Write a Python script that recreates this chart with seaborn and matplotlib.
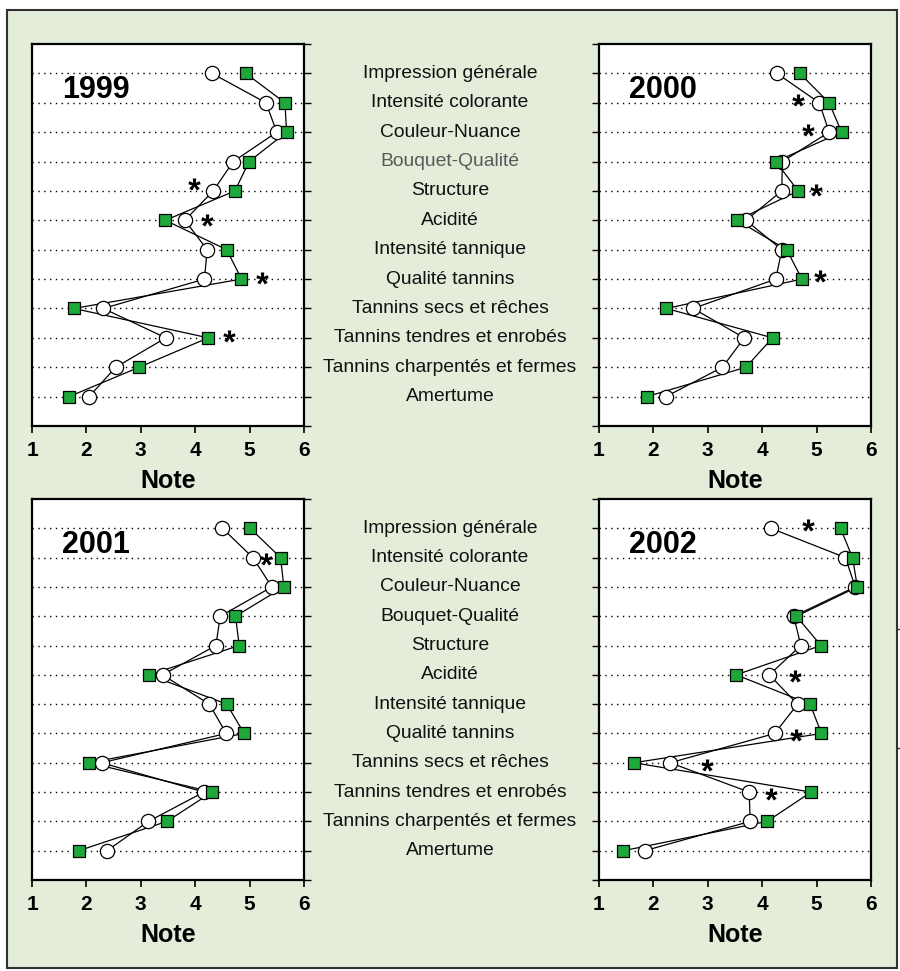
import matplotlib
matplotlib.use("Agg")
import matplotlib.pyplot as plt
import matplotlib.transforms as mtransforms
from matplotlib.lines import Line2D
from matplotlib.patches import Rectangle
import pandas as pd
import seaborn as sns


ATTRIBUTES = [
    "Impression générale",
    "Intensité colorante",
    "Couleur-Nuance",
    "Bouquet-Qualité",
    "Structure",
    "Acidité",
    "Intensité tannique",
    "Qualité tannins",
    "Tannins secs et rêches",
    "Tannins tendres et enrobés",
    "Tannins charpentés et fermes",
    "Amertume",
]
YEARS = ["1999", "2000", "2001", "2002"]

# open circles / green squares, one value per attribute (top to bottom)
OPEN_1999 = [4.31, 5.30, 5.50, 4.70, 4.33, 3.81, 4.22, 4.17, 2.31, 3.46, 2.54, 2.05]
GREEN_1999 = [4.93, 5.65, 5.68, 4.99, 4.73, 3.45, 4.58, 4.85, 1.77, 4.24, 2.97, 1.68]
OPEN_2000 = [4.27, 5.05, 5.23, 4.37, 4.36, 3.70, 4.36, 4.25, 2.73, 3.67, 3.27, 2.23]
GREEN_2000 = [4.69, 5.23, 5.46, 4.25, 4.66, 3.54, 4.45, 4.73, 2.24, 4.19, 3.70, 1.88]
OPEN_2001 = [4.50, 5.06, 5.41, 4.46, 4.38, 3.40, 4.26, 4.57, 2.28, 4.16, 3.14, 2.38]
GREEN_2001 = [5.01, 5.57, 5.63, 4.74, 4.81, 3.15, 4.58, 4.90, 2.05, 4.31, 3.48, 1.86]
OPEN_2002 = [4.16, 5.53, 5.71, 4.58, 4.71, 4.13, 4.65, 4.23, 2.31, 3.76, 3.78, 1.84]
GREEN_2002 = [5.44, 5.66, 5.75, 4.63, 5.08, 3.52, 4.88, 5.09, 1.64, 4.90, 4.09, 1.45]

# significance stars: note value and attribute row
STARS_1999_X = [3.98, 4.22, 5.22, 4.62]
STARS_1999_ROW = [3.78, 5.0, 6.95, 8.95]
STARS_2000_X = [4.65, 4.85, 4.99, 5.07]
STARS_2000_ROW = [0.89, 1.93, 3.97, 6.89]
STARS_2001_X = [5.30]
STARS_2001_ROW = [1.06]
STARS_2002_X = [4.84, 4.60, 4.63, 2.99, 4.16]
STARS_2002_ROW = [-0.11, 5.03, 7.05, 8.07, 9.06]

OPEN_VALUES = [OPEN_1999, OPEN_2000, OPEN_2001, OPEN_2002]
GREEN_VALUES = [GREEN_1999, GREEN_2000, GREEN_2001, GREEN_2002]
STAR_X = [STARS_1999_X, STARS_2000_X, STARS_2001_X, STARS_2002_X]
STAR_ROW = [STARS_1999_ROW, STARS_2000_ROW, STARS_2001_ROW, STARS_2002_ROW]

W, H = 900, 971
# panel boxes in pixels: left, top, right, bottom
PANEL_BOXES = [(32, 44, 304, 426), (599, 44, 871, 426), (32, 499, 304, 880), (599, 499, 871, 880)]
GREEN_BG = "#e3edda"
SQUARE_GREEN = "#1fa83a"


def make_axes(fig, box):
    left, top, right, bottom = box
    return fig.add_axes([left / W, 1 - bottom / H, (right - left) / W, (bottom - top) / H])


def draw_panel(ax, year, open_vals, green_vals, star_x, star_row, tick_side):
    rows = list(range(len(ATTRIBUTES)))
    open_df = pd.DataFrame({"note": open_vals, "row": rows})
    green_df = pd.DataFrame({"note": green_vals, "row": rows})
    star_df = pd.DataFrame({"note": star_x, "row": star_row})

    for df in (open_df, green_df):
        sns.lineplot(data=df, x="note", y="row", orient="y", sort=False,
                     estimator=None, color="black", linewidth=0.9, ax=ax, zorder=2)
    sns.scatterplot(data=open_df, x="note", y="row", marker="o", s=105,
                    color="white", edgecolor="black", linewidth=0.9, ax=ax, zorder=3)
    sns.scatterplot(data=green_df, x="note", y="row", marker="s", s=82,
                    color=SQUARE_GREEN, edgecolor="black", linewidth=0.9, ax=ax, zorder=4)
    sns.scatterplot(data=star_df, x="note", y="row", marker=r"$\mathbf{*}$", s=80,
                    color="black", linewidth=0, ax=ax, zorder=5)

    ax.set_xlim(1, 6)
    ax.set_ylim(12, -1)
    ax.set_xticks(range(1, 7))
    ax.set_xticklabels([str(v) for v in range(1, 7)], fontsize=15, fontweight="bold")
    ax.set_yticks(rows)
    ax.set_yticks([-1, 12], minor=True)
    ax.set_yticklabels([])
    ax.yaxis.set_ticks_position(tick_side)
    ax.tick_params(axis="x", direction="out", length=5, width=1.2, pad=6,
                   color="black", labelcolor="black")
    ax.tick_params(axis="y", which="both", direction="out", length=5, width=1.0,
                   color="black", labelleft=False, labelright=False)
    ax.grid(axis="y", which="major", linestyle=(0, (1, 3.2)), color="black", linewidth=1.0)
    ax.set_axisbelow(True)
    ax.set_xlabel("Note", fontsize=18, fontweight="bold", labelpad=6, color="black")
    ax.set_ylabel("")
    for spine in ax.spines.values():
        spine.set_visible(True)
        spine.set_color("black")
        spine.set_linewidth(1.6)
    ax.set_facecolor("white")
    ax.text(0.11, 0.88, year, transform=ax.transAxes, fontsize=22,
            fontweight="bold", ha="left", va="center", color="black")


def main():
    sns.set_theme(style="ticks")
    plt.rcParams["font.family"] = ["Liberation Sans", "DejaVu Sans"]
    plt.rcParams["text.color"] = "black"
    plt.rcParams["mathtext.fontset"] = "custom"
    plt.rcParams["mathtext.bf"] = "Liberation Sans:bold"

    fig = plt.figure(figsize=(W / 100, H / 100), dpi=100, facecolor="white")
    fig.patches.append(Rectangle((7 / W, 3 / H), 890 / W, 958 / H, transform=fig.transFigure,
                                 facecolor=GREEN_BG, edgecolor="#303030", linewidth=1.5,
                                 zorder=-5))
    # small bracket stub on the right edge
    for ypix in (629, 748):
        fig.add_artist(Line2D([897 / W, 1.0], [1 - ypix / H, 1 - ypix / H],
                              transform=fig.transFigure, color="#303030", linewidth=1.0))

    axes = [make_axes(fig, box) for box in PANEL_BOXES]
    for i, ax in enumerate(axes):
        side = "right" if i % 2 == 0 else "left"
        draw_panel(ax, YEARS[i], OPEN_VALUES[i], GREEN_VALUES[i], STAR_X[i], STAR_ROW[i], side)

    # shared attribute names between the two columns
    for k, left_ax in enumerate([axes[0], axes[2]]):
        trans = mtransforms.blended_transform_factory(fig.transFigure, left_ax.transData)
        for row, name in enumerate(ATTRIBUTES):
            color = "#5a5a5a" if (k == 0 and name == "Bouquet-Qualité") else "#111111"
            fig.text(450 / W, row, name, transform=trans, ha="center", va="center",
                     fontsize=13.9, color=color)

    fig.savefig("out.png", dpi=100, facecolor="white")


if __name__ == "__main__":
    main()
